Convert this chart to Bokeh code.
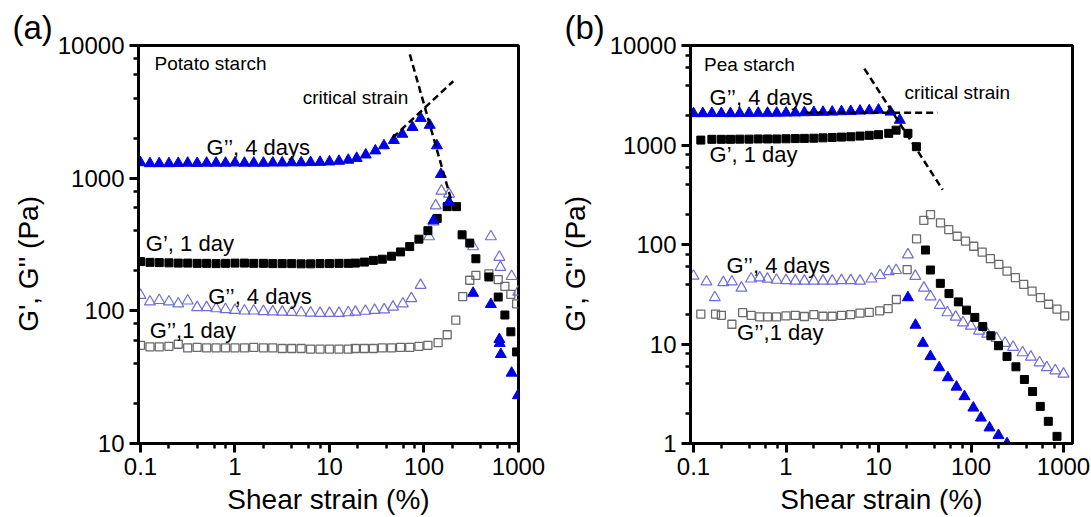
from bokeh.plotting import figure
from bokeh.models import Label, FixedTicker, CustomJSTickFormatter, Range1d
from bokeh.layouts import row
from bokeh.embed import file_html
from bokeh.resources import INLINE

FONT = "Liberation Sans"

# ---------------- Panel (a): Potato starch ----------------
grid = [0.1, 0.126, 0.158, 0.2, 0.251, 0.316, 0.398, 0.501, 0.631, 0.794,
        1.0, 1.26, 1.58, 2.0, 2.51, 3.16, 3.98, 5.01, 6.31, 7.94,
        10.0, 12.6, 15.8]

a_g1_day1_x = grid + [18.8, 23.4, 29.1, 36.2, 45.3, 56.5, 70.6,
                      88.4, 110, 138, 176, 221, 253, 305, 354, 486, 610,
                      718, 830, 955]
a_g1_day1_y = [235, 232, 231, 230, 229, 229, 228, 228, 227, 228,
               229, 229, 228, 228, 227, 227, 227, 226, 226, 227,
               227, 228, 228, 229, 233, 240, 245, 258, 278, 305,
               347, 402, 497, 610, 610, 374, 324, 247, 180, 127,
               93, 69.5, 49]

a_g2_day1_x = grid + [18.8, 23.4, 29.1, 36.2, 45.3, 56.5, 70.6, 88.4, 110,
                      141, 176, 217, 257, 305, 354, 486, 610, 718, 830, 955]
a_g2_day1_y = [55, 53.5, 53.5, 54, 56, 52.5, 53, 52.5, 52.5, 52.5,
               52.5, 52.5, 53, 52.5, 52.5, 52, 52, 52, 51.5, 51.5,
               51.5, 51.5, 51.5, 52,
               52, 52, 52.5, 52.5, 53, 53, 54, 55, 57.5, 66,
               85, 128, 170, 185, 190, 172, 153, 133, 113]

a_g2_day4_open_x = grid + [18.8, 24, 30, 37.9, 47, 59.8, 73.5, 92, 113, 126,
                           133, 153, 184, 331, 510, 627, 643, 846, 993]
a_g2_day4_open_y = [131, 117, 120, 117, 113, 119, 106, 106, 104, 102.6,
                    101, 100, 100, 99, 98.5, 98, 97.5, 97, 96.5, 96,
                    96, 96, 97,
                    98, 99.6, 101, 102, 107, 113, 124, 156, 363, 470,
                    620, 800, 760, 305, 363, 254, 213, 182, 139]

a_g2_day4_fill_x = grid + [19.4, 24.2, 30.6, 37.7, 48, 59, 75.5, 92.5, 115, 126,
                           137, 151, 184, 331, 510, 627, 633, 650, 846, 985]
a_g2_day4_fill_y = [1312, 1290, 1290, 1290, 1295, 1300, 1295, 1300, 1300, 1300,
                    1305, 1300, 1300, 1300, 1305, 1305, 1310, 1310, 1315, 1320,
                    1330, 1345, 1370,
                    1414, 1500, 1610, 1760, 1930, 2150, 2420, 2830, 2510, 479,
                    1760, 1070, 660, 136, 112, 61, 57, 47, 34, 23]

a_dash1_x = [70.8, 195]
a_dash1_y = [8570, 676]
a_dash2_x = [46.7, 204]
a_dash2_y = [2018, 5380]

# ---------------- Panel (b): Pea starch ----------------
b_g1_day1_x = [0.12, 0.158, 0.2, 0.251, 0.316, 0.398, 0.501, 0.631, 0.794, 1.0,
               1.26, 1.58, 2.0, 2.51, 3.16, 3.98, 5.01, 6.31, 7.94, 10.0,
               12.9, 15.5, 20.8, 25.7, 32.2, 36.4, 46.6, 57.8, 73, 89.4,
               110, 134, 164, 198, 245, 306, 378, 463, 561, 685, 851]
b_g1_day1_y = [1120, 1140, 1140, 1140, 1145, 1145, 1150, 1150, 1150, 1155,
               1160, 1165, 1170, 1180, 1190, 1200, 1210, 1230, 1250, 1270,
               1310, 1410, 1310, 962, 88, 55.4, 40.7, 32.1, 26.5, 21.9,
               18.5, 15, 12.1, 9.6, 7.5, 5.9, 4.4, 3.33, 2.36, 1.67, 1.18]

b_g2_day1_x = [0.12, 0.173, 0.2, 0.26, 0.34, 0.42, 0.52, 0.63, 0.79, 1.0,
               1.26, 1.58, 2.0, 2.51, 3.16, 3.98, 5.01, 6.31, 7.94, 10.3,
               12.7, 15.6, 20.4, 25.8, 30.9, 36.5, 46.8, 57.5, 70.9, 87.2,
               107, 132, 162, 200, 245, 302, 371, 457, 563, 690, 850, 1030]
b_g2_day1_y = [20, 20, 19.4, 15.8, 20.7, 19.4, 18.7, 18.7, 18.7, 19.2,
               19.4, 18.9, 19.7, 19, 19, 19.4, 19.7, 20.4, 20.8, 21.5,
               22.7, 28, 56, 114, 175, 200, 165, 141, 121, 108,
               96, 84, 72, 63, 54, 46.4, 39.8, 34, 29.3, 25.1, 22.4, 19.2]

b_g2_day4_open_x = [0.1, 0.138, 0.17, 0.21, 0.26, 0.33, 0.42, 0.52, 0.63, 0.79,
                    1.0, 1.26, 1.58, 2.0, 2.51, 3.16, 3.98, 5.01, 6.31, 8.4,
                    10.4, 12.9, 15.5, 20.8, 25, 31, 36.5, 46, 55.6, 68.3,
                    82, 99.8, 122, 150, 189, 233, 285, 361, 444, 551,
                    660, 815, 1000]
b_g2_day4_open_y = [48.2, 42.2, 29.3, 41.5, 42.2, 36.6, 45.2, 46.4, 45, 43.9,
                    43.5, 43, 43, 43, 43, 43, 43.5, 43.5, 43, 45.2,
                    49, 53.5, 55, 79, 48, 36.6, 29.9, 24.5, 20.7, 18.7,
                    16.4, 15.2, 13.5, 12.6, 11.4, 10.2, 9.3, 8.2, 7.4, 6.5,
                    5.8, 5.4, 5.0]

b_g2_day4_fill_x = [0.1, 0.126, 0.158, 0.2, 0.251, 0.316, 0.398, 0.501, 0.631, 0.794,
                    1.0, 1.26, 1.58, 2.0, 2.51, 3.16, 3.98, 5.01, 6.31, 7.94,
                    10.0, 13.5, 17.0, 20.8, 25.1, 30.2, 36.4, 45.3, 56.3, 69.7,
                    85, 106, 128, 158.5, 198, 245]
b_g2_day4_fill_y = [2075, 2075, 2080, 2080, 2075, 2080, 2085, 2090, 2090, 2095,
                    2100, 2110, 2120, 2130, 2140, 2150, 2170, 2180, 2200, 2220,
                    2250, 2150, 1780, 29.3, 15.5, 10.2, 7.5, 5.8, 4.6, 3.7,
                    2.97, 2.28, 1.81, 1.44, 1.21, 1.0]

b_dash1_x = [7.03, 49.4]
b_dash1_y = [5850, 355]
b_dash2_x = [1.61, 43.4]
b_dash2_y = [2104, 2104]

x_major = [0.1, 1, 10, 100, 1000]
x_minor = [m * d for d in [0.1, 1, 10, 100] for m in (2, 4, 6, 8)]

BLUE = "#0000e6"
LBLUE = "#6e6ed6"
GRAY = "#6a6a6a"
NB = "\u00a0"


def make_fig(panel, xr, yr, width, bl, br, bt, bb, yticks, yminor, ylab_standoff):
    p = figure(x_axis_type="log", y_axis_type="log",
               x_range=Range1d(*xr), y_range=Range1d(*yr),
               width=width, height=517,
               min_border_left=bl, min_border_right=br,
               min_border_top=bt, min_border_bottom=bb,
               output_backend="svg", toolbar_location=None)
    p.grid.visible = False
    p.outline_line_color = "black"
    p.outline_line_width = 3
    p.outline_line_alpha = 1
    p.title.text = panel
    p.title.text_font = FONT
    p.title.text_font_size = "33px"
    p.title.text_font_style = "normal"
    p.title.text_color = "black"
    p.title.align = "left"
    p.title.offset = -126
    p.title.standoff = 0
    fmt = CustomJSTickFormatter(code="return String(tick);")
    p.xaxis.ticker = FixedTicker(ticks=x_major, minor_ticks=x_minor)
    p.yaxis.ticker = FixedTicker(ticks=yticks, minor_ticks=yminor)
    p.xaxis.axis_label = "Shear strain (%)"
    p.yaxis.axis_label = "G', G'' (Pa)" + NB * 5
    p.xaxis.axis_label_standoff = 6
    p.yaxis.axis_label_standoff = ylab_standoff
    for ax in (p.xaxis[0], p.yaxis[0]):
        ax.formatter = fmt
        ax.axis_line_width = 3
        ax.axis_line_color = "black"
        ax.major_tick_line_width = 3
        ax.major_tick_out = 9
        ax.major_tick_in = 0
        ax.minor_tick_line_width = 2.5
        ax.minor_tick_out = 5
        ax.minor_tick_in = 0
        ax.major_label_text_font = FONT
        ax.major_label_text_font_size = "24px"
        ax.major_label_text_color = "black"
        ax.major_label_standoff = 5
        ax.axis_label_text_font = FONT
        ax.axis_label_text_font_size = "28px"
        ax.axis_label_text_font_style = "normal"
        ax.axis_label_text_color = "black"
    return p


def lab(p, text, x, y, size):
    p.add_layout(Label(x=x, y=y, text=text, text_font=FONT,
                       text_font_size=f"{size}px", text_color="black",
                       text_align="left", text_baseline="middle"))


def draw_series(p, g2d1x, g2d1y, g2d4ox, g2d4oy, g1x, g1y, g4fx, g4fy):
    p.scatter(g2d1x, g2d1y, marker="square", size=8, fill_alpha=0,
              line_color=GRAY, line_width=1.3)
    p.scatter(g2d4ox, g2d4oy, marker="triangle", size=11, fill_alpha=0,
              line_color=LBLUE, line_width=1.2)
    p.scatter(g1x, g1y, marker="square", size=8, fill_color="black", line_color="black")
    p.scatter(g4fx, g4fy, marker="triangle", size=11, fill_color=BLUE, line_color=BLUE)


# ---- figure a ----
ya_major = [10, 100, 1000, 10000]
ya_minor = [m * d for d in [10, 100, 1000] for m in (2, 4, 6, 8)]
pa = make_fig("(a)", (0.0953, 1000), (10, 10000), 545, 138, 27, 44, 73,
              ya_major, ya_minor, 11)
draw_series(pa, a_g2_day1_x, a_g2_day1_y, a_g2_day4_open_x, a_g2_day4_open_y,
            a_g1_day1_x, a_g1_day1_y, a_g2_day4_fill_x, a_g2_day4_fill_y)
pa.line(a_dash1_x, a_dash1_y, line_color="black", line_width=2.5, line_dash="7 4")
pa.line(a_dash2_x, a_dash2_y, line_color="black", line_width=2.5, line_dash="7 4")
lab(pa, "Potato starch", 0.141, 7280, 19)
lab(pa, "critical strain", 5.2, 4050, 19)
lab(pa, "G\u2019\u2019, 4 days", 0.5, 1706, 22)
lab(pa, "G\u2019, 1 day", 0.114, 319, 22)
lab(pa, "G\u2019\u2019, 4 days", 0.52, 129, 22)
lab(pa, "G\u2019\u2019,1 day", 0.125, 70.5, 22)

# ---- figure b ----
yb_major = [1, 10, 100, 1000, 10000]
yb_minor = [m * d for d in [1, 10, 100, 1000] for m in (2, 4, 6, 8)]
pb = make_fig("(b)", (0.0928, 1251), (1, 10000), 546, 145, 19, 45, 72,
              yb_major, yb_minor, 16)
draw_series(pb, b_g2_day1_x, b_g2_day1_y, b_g2_day4_open_x, b_g2_day4_open_y,
            b_g1_day1_x, b_g1_day1_y, b_g2_day4_fill_x, b_g2_day4_fill_y)
pb.line(b_dash1_x, b_dash1_y, line_color="black", line_width=2.5, line_dash="7 4")
pb.line(b_dash2_x, b_dash2_y, line_color="black", line_width=2.5, line_dash="7 4")
lab(pb, "Pea starch", 0.13, 6380, 19)
lab(pb, "G\u2019\u2019, 4 days", 0.149, 2985, 22)
lab(pb, "critical strain", 19.1, 3350, 19)
lab(pb, "G\u2019, 1 day", 0.149, 794, 22)
lab(pb, "G\u2019\u2019, 4 days", 0.227, 61.7, 22)
lab(pb, "G\u2019\u2019,1 day", 0.296, 12.9, 22)

layout = row(pa, pb)
open("out.html", "w").write(file_html(layout, INLINE))
